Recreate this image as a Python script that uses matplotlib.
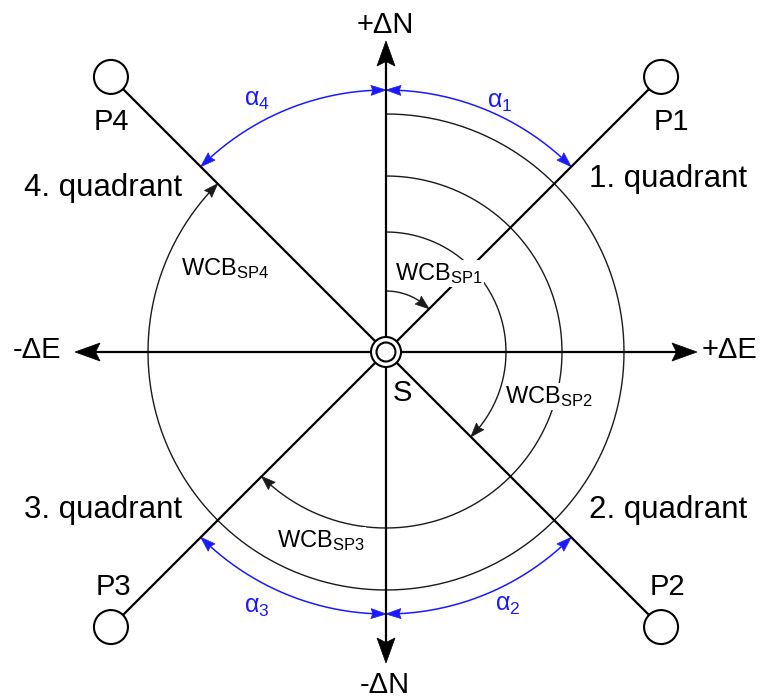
import numpy as np
import matplotlib
matplotlib.use('Agg')
import matplotlib.pyplot as plt
from matplotlib.patches import Circle, Polygon

plt.rcParams['font.family'] = ['Liberation Sans', 'DejaVu Sans']
plt.rcParams['mathtext.fontset'] = 'custom'
plt.rcParams['mathtext.rm'] = 'Liberation Sans'
plt.rcParams['mathtext.it'] = 'Liberation Sans:italic'
plt.rcParams['mathtext.bf'] = 'Liberation Sans:bold'

# ---------------- data ----------------
point_names = ['P1', 'P2', 'P3', 'P4']
point_bearings = [45, 135, 225, 315]
quadrant_labels = ['1. quadrant', '2. quadrant', '3. quadrant', '4. quadrant']
wcb_labels = [r'$\mathrm{WCB}_{\mathrm{SP1}}$', r'$\mathrm{WCB}_{\mathrm{SP2}}$',
              r'$\mathrm{WCB}_{\mathrm{SP3}}$', r'$\mathrm{WCB}_{\mathrm{SP4}}$']
wcb_bearings = [45, 135, 225, 315]
alpha_labels = [r'$\mathrm{α}_{1}$', r'$\mathrm{α}_{2}$', r'$\mathrm{α}_{3}$', r'$\mathrm{α}_{4}$']
alpha_spans = [(0, 45), (135, 180), (180, 225), (315, 360)]
axis_labels = ['+ΔN', '+ΔE', '-ΔN', '-ΔE']
axis_bearings = [0, 90, 180, 270]

# ---------------- layout ----------------
R_AXIS = 311
R_POINT = 389
R_PCIRC = 17
R_RING_OUT = 15
R_RING_IN = 9.5
R_WCB = [61, 120, 176, 238]
R_ALPHA = 262
BLUE = '#1a1aff'
ARC_C = '#1a1a1a'

fig = plt.figure(figsize=(7.61, 6.98), dpi=100)
ax = fig.add_axes([0, 0, 1, 1])
ax.set_xlim(-386, 375)
ax.set_ylim(-346, 352)
ax.set_aspect('equal')
ax.axis('off')


def pt(b, r):
    t = np.radians(b)
    return np.array([r * np.sin(t), r * np.cos(t)])


def head_poly(tip, base, W, notch=0.0):
    u = tip - base
    L = np.hypot(*u)
    u = u / L
    n = np.array([-u[1], u[0]])
    p1 = base + n * W / 2
    p2 = base - n * W / 2
    pn = base + u * L * notch
    return Polygon([tip, p1, pn, p2], closed=True)


def arc_arrow(b1, b2, r, color, lw, L, W, start_head, end_head, z=2):
    d = np.degrees(L / r)
    s = b1 + (d * 0.8 if start_head else 0)
    e = b2 - (d * 0.8 if end_head else 0)
    bs = np.linspace(s, e, 300)
    xs = r * np.sin(np.radians(bs))
    ys = r * np.cos(np.radians(bs))
    ax.plot(xs, ys, color=color, lw=lw, solid_capstyle='butt', zorder=z)
    if end_head:
        p = head_poly(pt(b2, r), pt(b2 - d, r), W, 0.12)
        p.set_facecolor(color); p.set_edgecolor(color); p.set_linewidth(0.5); p.set_zorder(z)
        ax.add_patch(p)
    if start_head:
        p = head_poly(pt(b1, r), pt(b1 + d, r), W, 0.12)
        p.set_facecolor(color); p.set_edgecolor(color); p.set_linewidth(0.5); p.set_zorder(z)
        ax.add_patch(p)


# axes with arrows
for b in axis_bearings:
    L, W = 25, 18
    tip = pt(b, R_AXIS)
    base = pt(b, R_AXIS - L)
    start = pt(b, R_RING_OUT)
    mid = pt(b, R_AXIS - L * 0.8)
    ax.plot([start[0], mid[0]], [start[1], mid[1]], color='black', lw=1.6, zorder=3)
    p = head_poly(tip, base, W, 0.18)
    p.set_facecolor('black'); p.set_edgecolor('black'); p.set_linewidth(0.5); p.set_zorder(3)
    ax.add_patch(p)

# lines to points and point circles
for b in point_bearings:
    s = pt(b, R_RING_OUT)
    e = pt(b, R_POINT - R_PCIRC)
    ax.plot([s[0], e[0]], [s[1], e[1]], color='black', lw=1.6, zorder=3)
    c = pt(b, R_POINT)
    ax.add_patch(Circle(c, R_PCIRC, facecolor='white', edgecolor='black', lw=1.5, zorder=4))

# WCB arcs (clockwise from north)
for b, r in zip(wcb_bearings, R_WCB):
    arc_arrow(0, b, r, ARC_C, 1.0, 14, 10, False, True, z=2)

# alpha arcs (blue, double headed)
for (b1, b2) in alpha_spans:
    arc_arrow(b1, b2, R_ALPHA, BLUE, 1.1, 15, 10, True, True, z=2)

# center station S
ax.add_patch(Circle((0, 0), R_RING_OUT, facecolor='white', edgecolor='black', lw=1.5, zorder=5))
ax.add_patch(Circle((0, 0), R_RING_IN, facecolor='white', edgecolor='black', lw=1.5, zorder=6))

FS = 21
# axis labels
ax.text(-1, 327, axis_labels[0], fontsize=FS, ha='center', va='center')
ax.text(316, 2, axis_labels[1], fontsize=FS, ha='left', va='center')
ax.text(-1, -333, axis_labels[2], fontsize=FS, ha='center', va='center')
ax.text(-349, 2, axis_labels[3], fontsize=FS, ha='center', va='center')

# point labels
p_pos = [(285, 230), (281, -235), (-273, -235), (-275, 230)]
for name, (x, y) in zip(point_names, p_pos):
    ax.text(x, y, name, fontsize=FS, ha='center', va='center')

# quadrant labels
q_pos = [(282, 173), (282, -158), (-283, -158), (-283, 164)]
for lab, (x, y) in zip(quadrant_labels, q_pos):
    ax.text(x, y, lab, fontsize=22.5, ha='center', va='center')

ax.text(16, -41, 'S', fontsize=FS, ha='center', va='center', zorder=7)

# WCB labels
w_pos = [(9, 72), (119, -51), (-109, -195), (-205, 77)]
for lab, (x, y) in zip(wcb_labels, w_pos):
    ax.text(x, y, lab, fontsize=17, ha='left', va='baseline', zorder=8,
            bbox=dict(facecolor='white', edgecolor='none', pad=1.0))

# alpha labels
a_pos = [(114, 250), (122, -253), (-129, -255), (-129, 252)]
for lab, (x, y) in zip(alpha_labels, a_pos):
    ax.text(x, y, lab, fontsize=18, ha='center', va='center', color=BLUE)

fig.savefig('out.png', dpi=100)
